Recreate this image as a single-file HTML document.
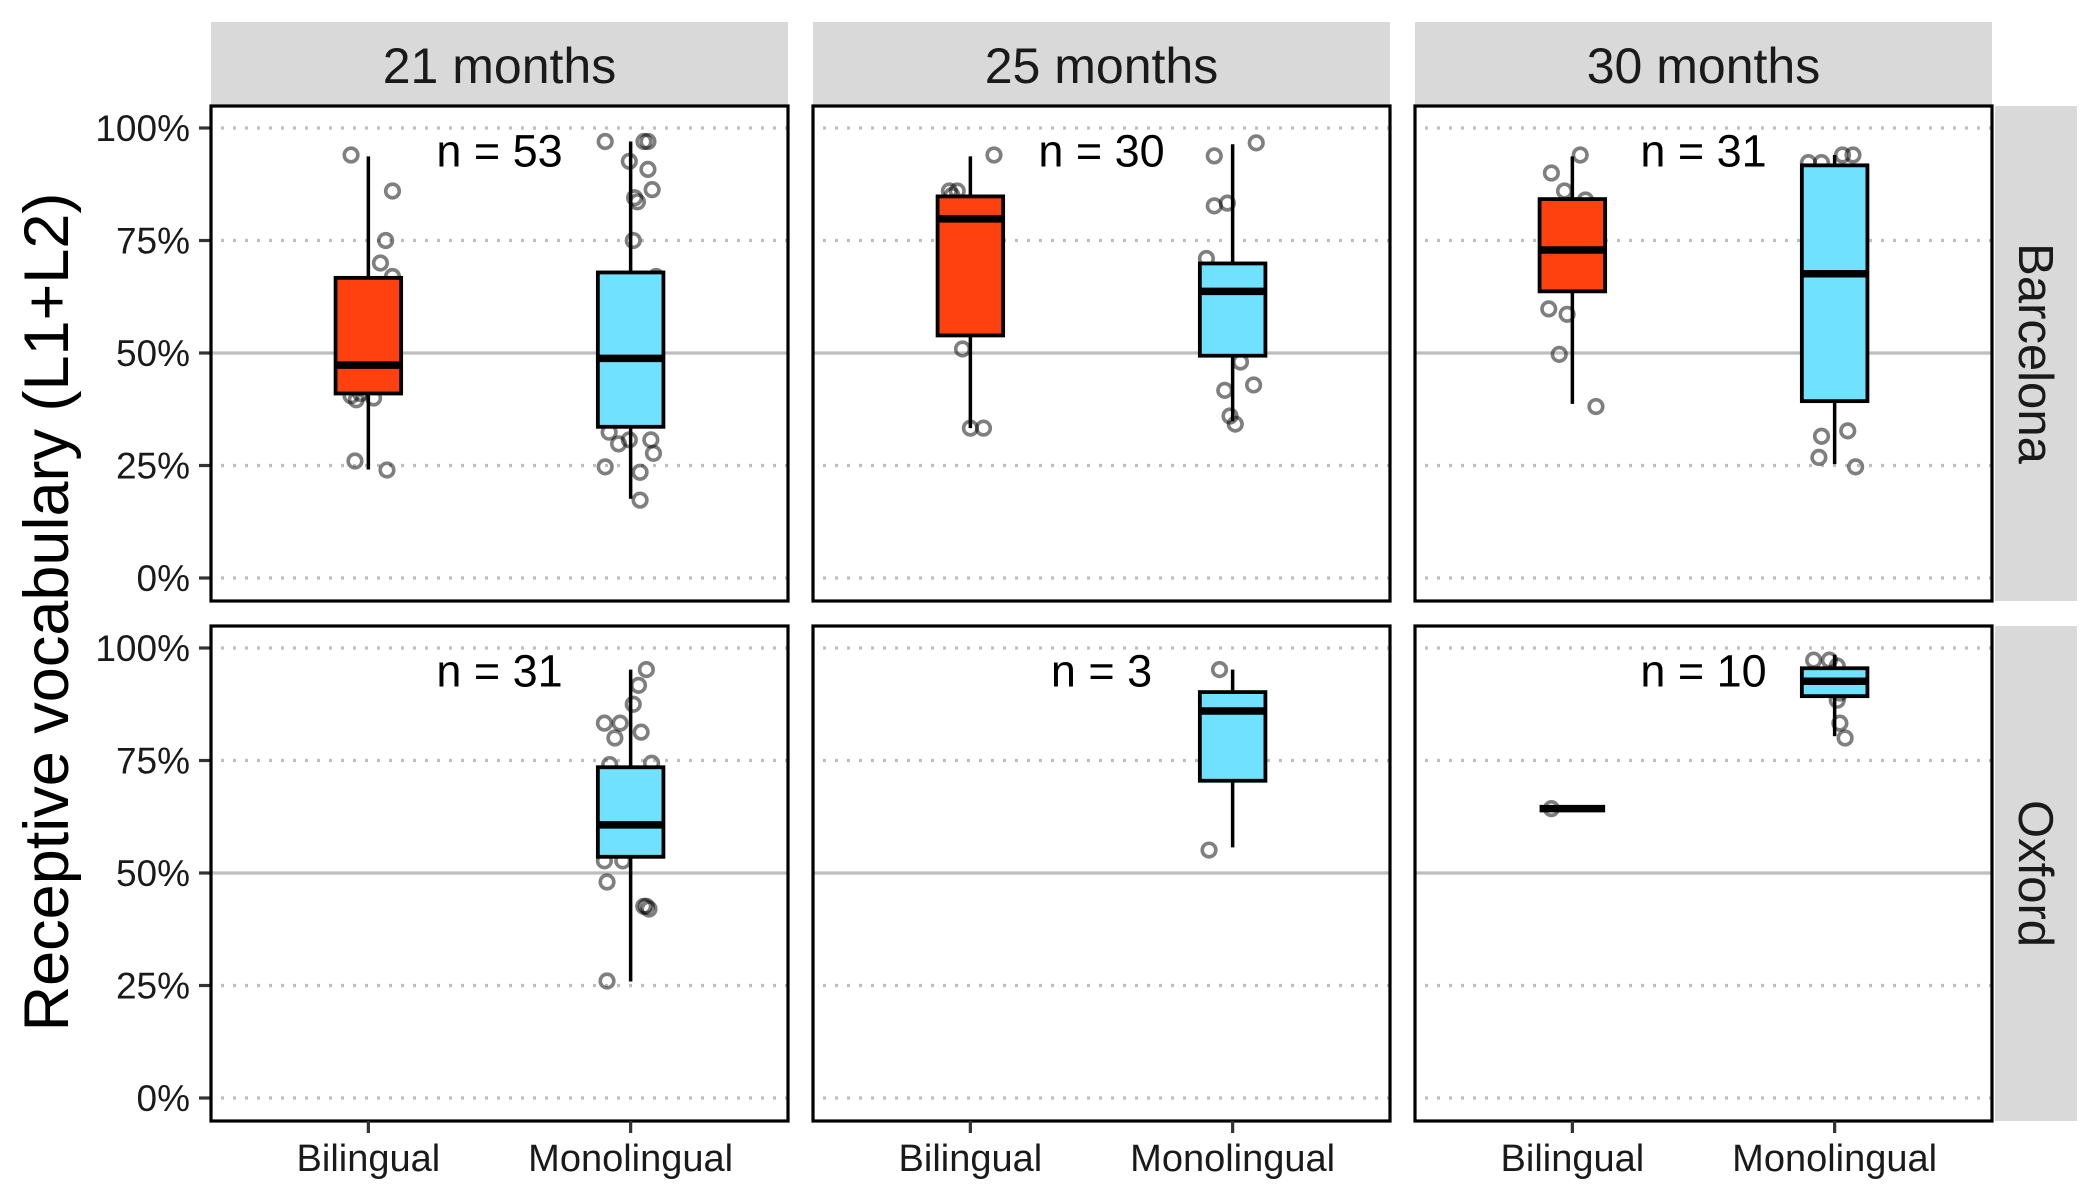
<!DOCTYPE html>
<html><head><meta charset="utf-8">
<style>
html,body{margin:0;padding:0;background:#fff;}
svg{display:block;font-family:"Liberation Sans",Arial,sans-serif;}
</style></head>
<body>
<svg id="chart" width="2100" height="1200" viewBox="0 0 2100 1200" xmlns="http://www.w3.org/2000/svg">
<g id="layer"></g>
<text x="0" y="0" transform="translate(68,612) rotate(-90)" text-anchor="middle" font-size="63" fill="#000">Receptive vocabulary (L1+L2)</text>
</svg>
<script>
const colLabels = ['21 months','25 months','30 months'];
const rowLabels = ['Barcelona','Oxford'];
const categories = ['Bilingual','Monolingual'];
const yTicks = [0,25,50,75,100];
const yTickLabels = ['0%','25%','50%','75%','100%'];
const nLabels = [['n = 53','n = 30','n = 31'],['n = 31','n = 3','n = 10']];
// box stats [min,q1,median,q3,max] per row, col, category
const boxStats = [
 [[[24.1,41,47.3,66.7,93.7],[17.6,33.6,48.8,67.9,97]],
  [[33.3,53.9,79.8,84.8,93.7],[34.8,49.4,63.7,69.9,96.4]],
  [[38.7,63.7,72.9,84.2,93.7],[25.3,39.3,67.6,91.7,94]]],
 [[null,[25.9,53.6,60.7,73.5,95.2]],
  [null,[55.7,70.5,86,90.2,95.2]],
  [[64.3,64.3,64.3,64.3,64.3],[80.4,89.3,92.6,95.5,98.5]]]
];
const pointValues = [
 [[[94,86,75,70,67,40.5,39.6,26,24,41,40],[97,97,97,92.6,90.8,84.5,86.3,83.6,75,67,32.4,29.8,24.7,23.5,30.7,27.7,17.3,30.7]],
  [[94,86,85,50.9,33.3,33.3,86],[96.7,93.8,82.7,83.3,71,51,48,41.7,42.9,36,34.2]],
  [[94,90,86,84,59.8,58.6,49.7,38.1],[92.3,92.3,94,94,31.5,32.7,26.8,24.7]]],
 [[[],[95.2,91.7,87.5,83.3,83.3,80,81.3,74.4,74.1,64,52.7,52.7,48,42.6,42.6,42,26]],
  [[],[95.2,55.1,86]],
  [[64.3],[97.3,97.3,96,88.4,83.3,80,92,94,91,90]]]
];
const pointJitter = [
 [[[-0.066,0.092,0.066,0.046,0.092,-0.066,-0.046,-0.051,0.071,-0.03,0.02],[-0.097,0.051,0.066,-0.005,0.066,0.015,0.082,0.026,0.01,0.097,-0.082,-0.046,-0.097,0.036,0.077,0.087,0.036,-0.005]],
  [[0.09,-0.05,-0.07,-0.03,0,0.05,-0.08],[0.09,-0.07,-0.07,-0.02,-0.1,-0.05,0.03,-0.03,0.08,-0.01,0.01]],
  [[0.03,-0.08,-0.03,0.05,-0.09,-0.02,-0.05,0.09],[-0.1,-0.05,0.03,0.07,-0.05,0.05,-0.06,0.08]]],
 [[[],[0.06,0.03,0.01,-0.1,-0.04,-0.06,0.04,0.08,-0.08,0.01,-0.1,-0.03,-0.09,0.05,0.06,0.07,-0.09]],
  [[],[-0.05,-0.09,0.03]],
  [[-0.08],[-0.08,-0.02,0.01,0.01,0.02,0.04,0,0.05,-0.03,0.02]]]
];
const fills = ['#FF400F','#70E1FF'];

const NS='http://www.w3.org/2000/svg';
const layer=document.getElementById('layer');
function mk(tag,attrs,parent){const e=document.createElementNS(NS,tag);for(const k in attrs)e.setAttribute(k,attrs[k]);(parent||layer).appendChild(e);return e;}
const PX0=211,PW=577,PSTEP=602,PY0=106,PH=495,RSTEP=520;
function xPos(c,u){const unit=PW/2.2;return PX0+c*PSTEP+(u+0.6)*unit;}
function yPos(r,v){return PY0+r*RSTEP+472-v*4.5;}
const unit=PW/2.2;

colLabels.forEach((lab,c)=>{
  const g=mk('g',{});
  
  
  mk('rect',{x:PX0+c*PSTEP,y:22,width:PW,height:84,fill:'#d9d9d9'},g);
  const t=mk('text',{x:PX0+c*PSTEP+PW/2,y:83,'text-anchor':'middle','font-size':50,fill:'#1a1a1a'},g);
  t.textContent=lab;
});
rowLabels.forEach((lab,r)=>{
  const g=mk('g',{});
  
  
  const y0=PY0+r*RSTEP;
  mk('rect',{x:1995,y:y0,width:82,height:PH,fill:'#d9d9d9'},g);
  const t=mk('text',{x:0,y:0,transform:`translate(2019,${y0+PH/2}) rotate(90)`,'text-anchor':'middle','font-size':49,fill:'#1a1a1a'},g);
  t.textContent=lab;
});

for(let r=0;r<2;r++){
  yTicks.forEach((v,i)=>{
    const y=yPos(r,v);
    const tk=mk('line',{x1:199,x2:211,y1:y,y2:y,stroke:'#333','stroke-width':3.2});
    
    
    const t=mk('text',{x:190,y:y+13,'text-anchor':'end','font-size':37,fill:'#1a1a1a'});
    
    
    t.textContent=yTickLabels[i];
  });
  for(let c=0;c<3;c++){
    const x0=PX0+c*PSTEP,y0=PY0+r*RSTEP;
    const g=mk('g',{});
    
    
    yTicks.forEach(v=>{
      const y=yPos(r,v);
      if(v===50) mk('line',{x1:x0,x2:x0+PW,y1:y,y2:y,stroke:'#bebebe','stroke-width':3.2},g);
      else mk('line',{x1:x0+10,x2:x0+PW,y1:y,y2:y,stroke:'#bebebe','stroke-width':3.2,'stroke-dasharray':'3 9'},g);
    });
    categories.forEach((cat,k)=>{
      pointValues[r][c][k].forEach((v,i)=>{
        const p=mk('circle',{cx:xPos(c,k+pointJitter[r][c][k][i]),cy:yPos(r,v),r:6.8,fill:'none',stroke:'rgba(0,0,0,0.5)','stroke-width':3.6},g);
        
        
      });
    });
    categories.forEach((cat,k)=>{
      const s=boxStats[r][c][k]; if(!s) return;
      const cx=xPos(c,k),bw=unit*0.25;
      const bg=mk('g',{},g);
      
      
      mk('line',{x1:cx,x2:cx,y1:yPos(r,s[4]),y2:yPos(r,s[3]),stroke:'#000','stroke-width':3.5},bg);
      mk('line',{x1:cx,x2:cx,y1:yPos(r,s[1]),y2:yPos(r,s[0]),stroke:'#000','stroke-width':3.5},bg);
      mk('rect',{x:cx-bw/2,y:yPos(r,s[3]),width:bw,height:Math.max(0,yPos(r,s[1])-yPos(r,s[3])),fill:fills[k],stroke:'#000','stroke-width':3.8},bg);
      mk('line',{x1:cx-bw/2,x2:cx+bw/2,y1:yPos(r,s[2]),y2:yPos(r,s[2]),stroke:'#000','stroke-width':7.5},bg);
    });
    mk('rect',{x:x0,y:y0,width:PW,height:PH,fill:'none',stroke:'#000','stroke-width':3.2},g);
    const nl=mk('text',{x:x0+PW/2,y:yPos(r,95)+16,'text-anchor':'middle','font-size':45,fill:'#000'},g);
    
    
    nl.textContent=nLabels[r][c];
    if(r===1){
      categories.forEach((cat,k)=>{
        const cx=xPos(c,k);
        mk('line',{x1:cx,x2:cx,y1:y0+PH,y2:y0+PH+12,stroke:'#333','stroke-width':3.2},g);
        const t=mk('text',{x:cx,y:1171,'text-anchor':'middle','font-size':38,fill:'#1a1a1a'},g);
        
        
        t.textContent=cat;
      });
    }
  }
}
</script>
</body></html>
